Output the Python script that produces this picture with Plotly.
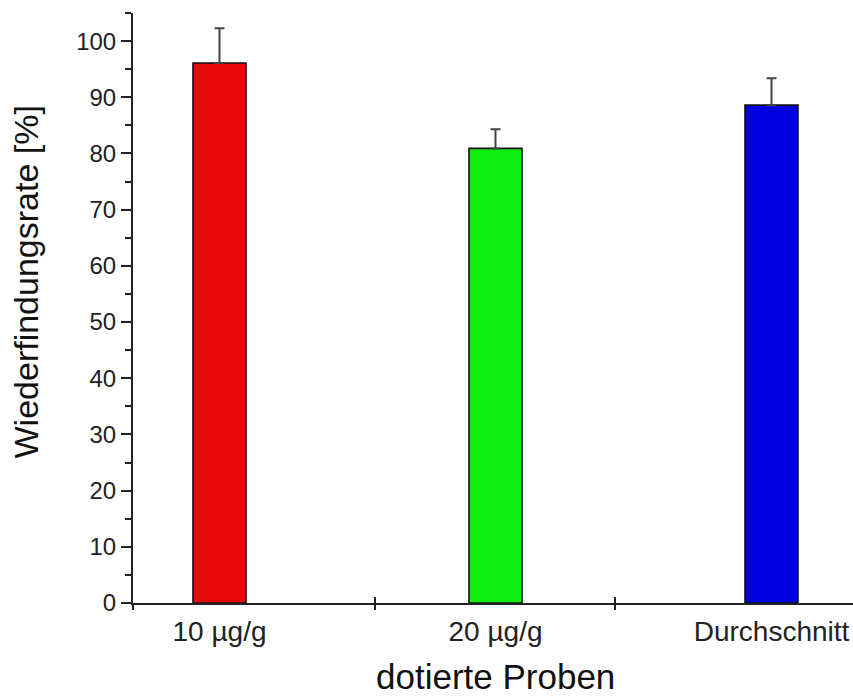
import plotly.graph_objects as go

categories = ["10 µg/g", "20 µg/g", "Durchschnitt"]
recovery = [96.1, 80.9, 88.6]
error_plus = [6.2, 3.4, 4.8]
bar_colors = ["#E80808", "#10F010", "#0000E0"]

x_title = "dotierte Proben"
y_title = "Wiederfindungsrate [%]"

x_pos = list(range(len(categories)))
x_range = [-0.3134, 2.2953]
separators = [x_range[0], 0.5634, 1.433]

FONT = "Liberation Sans, Arial, sans-serif"

fig = go.Figure()
fig.add_trace(go.Bar(
    x=x_pos, y=recovery, width=0.192,
    marker=dict(color=bar_colors, line=dict(color="#111111", width=1.6)),
    error_y=dict(type="data", array=error_plus, arrayminus=[0] * len(error_plus),
                 symmetric=False, color="#444444", thickness=2, width=5),
    showlegend=False, hoverinfo="skip",
))
fig.add_trace(go.Scatter(x=[None], y=[None], xaxis="x2", showlegend=False))
fig.add_trace(go.Scatter(x=[None], y=[None], xaxis="x3", showlegend=False))

axis_col = "#222222"
fig.update_layout(
    width=853, height=697,
    margin=dict(l=133, r=0, t=13, b=94),
    paper_bgcolor="white", plot_bgcolor="white",
    font=dict(family=FONT, color="#222222"),
    xaxis=dict(
        range=x_range, tickvals=x_pos, ticktext=categories,
        ticks="", showline=True, linecolor=axis_col, linewidth=2,
        showgrid=False, zeroline=False,
        tickfont=dict(size=28, family=FONT, color="#222222"),
        ticklabelstandoff=2,
    ),
    xaxis2=dict(
        overlaying="x", anchor="y", range=x_range, tickvals=separators,
        ticks="outside", ticklen=6, tickwidth=2, tickcolor=axis_col,
        showticklabels=False, showline=False, showgrid=False, zeroline=False,
    ),
    xaxis3=dict(
        overlaying="x", anchor="y", range=x_range, tickvals=separators,
        ticks="inside", ticklen=6, tickwidth=2, tickcolor=axis_col,
        showticklabels=False, showline=False, showgrid=False, zeroline=False,
    ),
    yaxis=dict(
        range=[0, 105], tickvals=list(range(0, 101, 10)),
        ticks="outside", ticklen=10, tickwidth=2, tickcolor=axis_col,
        minor=dict(tickvals=list(range(5, 106, 10)), ticks="outside", ticklen=6,
                   tickwidth=2, tickcolor=axis_col),
        showline=True, linecolor=axis_col, linewidth=2,
        showgrid=False, zeroline=False,
        tickfont=dict(size=24, family=FONT, color="#222222"),
    ),
    annotations=[
        dict(text=y_title, textangle=-90, xref="paper", yref="paper",
             x=-0.148, y=0.544, xanchor="center", yanchor="middle", showarrow=False,
             font=dict(size=34, family=FONT, color="#111111")),
        dict(text=x_title, xref="paper", yref="paper",
             x=0.503, y=-0.124, xanchor="center", yanchor="middle", showarrow=False,
             font=dict(size=35, family=FONT, color="#111111")),
    ],
)

fig.write_html("out.html")
